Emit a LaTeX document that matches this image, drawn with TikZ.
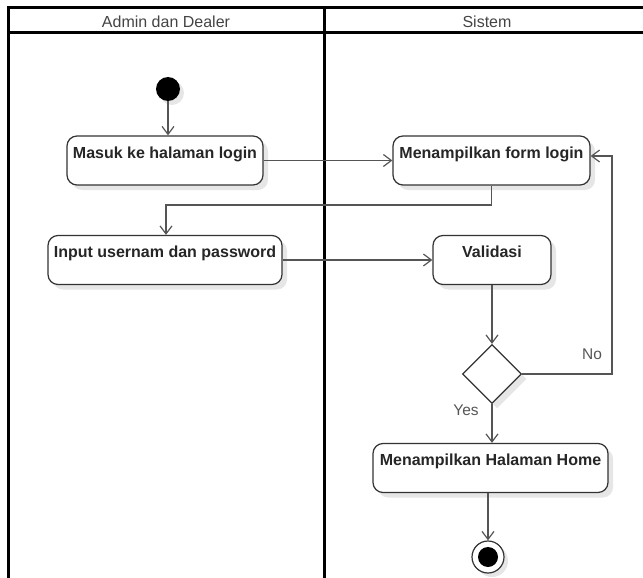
\documentclass[tikz,border=0pt]{standalone}
\usepackage{fontspec}
\setmainfont{Liberation Sans}
\usetikzlibrary{arrows.meta,shapes.geometric,shadows}
\definecolor{boxline}{HTML}{333333}
\definecolor{conn}{HTML}{555555}
\definecolor{hdrtext}{HTML}{444444}
\definecolor{shade}{HTML}{E6E6E6}
\tikzset{
  lane/.style={line width=3pt, black},
  act/.style={draw=boxline, line width=1.2pt, rounded corners=10pt, fill=white,
    font=\fontsize{16}{19}\selectfont\bfseries, text=black!85,
    inner xsep=0pt, inner ysep=0pt, text height=22pt, text depth=27pt,
    drop shadow={shadow xshift=5pt, shadow yshift=-5pt, fill=shade, opacity=1}},
  flow/.style={draw=conn, line width=1.2pt, -{Straight Barb[length=8pt,width=12pt,line width=1.2pt]}},
  hdr/.style={font=\fontsize{16}{19}\selectfont, text=hdrtext, anchor=base},
  guard/.style={font=\fontsize{15.5}{18}\selectfont, text=conn},
}
\begin{document}
\begin{tikzpicture}[x=1pt,y=-1pt]
\useasboundingbox (0,0) rectangle (643,578);
% swimlanes
\draw[lane] (8,578) -- (8,7.5) -- (650,7.5);
\draw[lane] (8,33) -- (650,33);
\draw[lane] (324,7.5) -- (324,578);
\node[hdr] (h1) at (166,28) {Admin dan Dealer};
\node[hdr] (h2) at (487,28) {Sistem};
% nodes
\node[circle, fill=black, minimum size=24pt, inner sep=0pt,
  drop shadow={shadow xshift=4pt, shadow yshift=-4pt, fill=shade, opacity=1}] (start) at (168,89) {};
\node[act, minimum width=196pt] (masuk) at (165,160.5) {Masuk ke halaman login};
\node[act, minimum width=234pt] (input) at (165,260) {Input usernam dan password};
\node[act, minimum width=197pt] (form) at (491.5,160.5) {Menampilkan form login};
\node[act, minimum width=118pt] (valid) at (492,260) {Validasi};
\node[diamond, draw=boxline, line width=1.2pt, fill=white, minimum width=59pt, minimum height=59pt, inner sep=0pt,
  drop shadow={shadow xshift=5pt, shadow yshift=-5pt, fill=shade, opacity=1}] (dec) at (492,374) {};
\node[act, minimum width=235pt] (home) at (490.5,468) {Menampilkan Halaman Home};
\node[circle, draw=boxline, line width=1.2pt, fill=white, minimum size=32pt, inner sep=0pt,
  path picture={\fill[black] (path picture bounding box.center) circle (10pt);},
  drop shadow={shadow xshift=4pt, shadow yshift=-4pt, fill=shade, opacity=1}] (final) at (488,557) {};
% connectors
\coordinate (k1) at (166,205);
\coordinate (k2) at (612,156);
\draw[flow] (start.south) -- (start.south |- masuk.north);
\draw[flow] (masuk.east) -- (form.west);
\draw[flow] (form.south) |- (k1) -- (k1 |- input.north);
\draw[flow] (input.east) -- (valid.west);
\draw[flow] (valid.south) -- (dec.north);
\draw[flow] (dec.east) -| (k2) -- (k2 -| form.east);
\draw[flow] (dec.south) -- (dec.south |- home.north);
\draw[flow] (home.south -| final.north) -- (final.north);
\node[guard] (no) at (592,354) {No};
\node[guard] (yes) at (466,410) {Yes};
\end{tikzpicture}
\end{document}
